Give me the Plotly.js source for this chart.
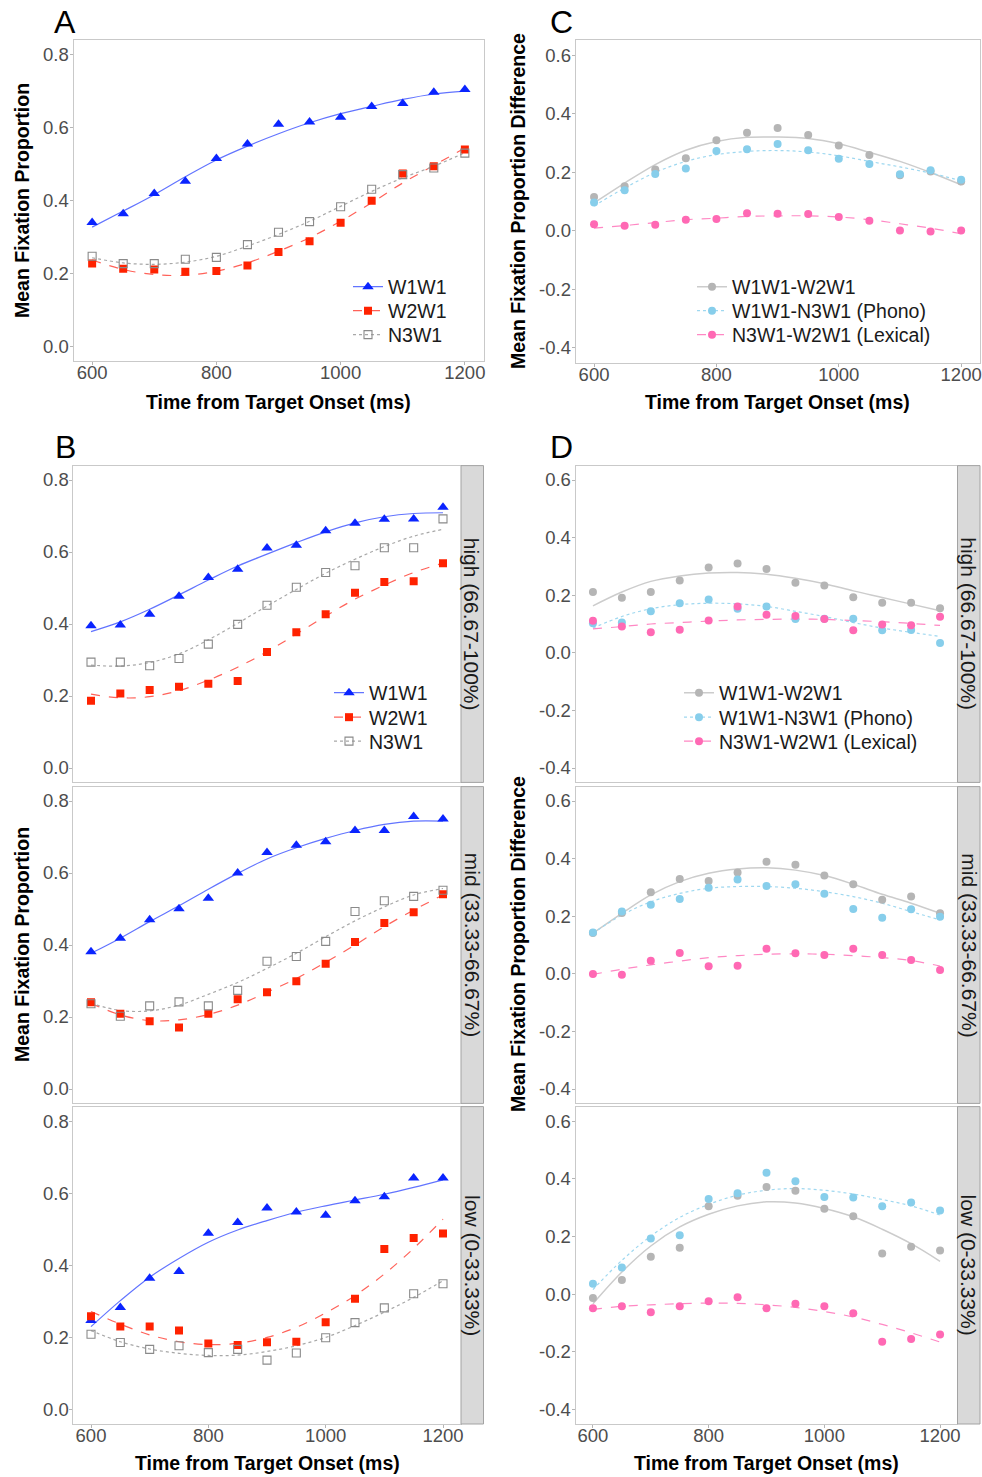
<!DOCTYPE html>
<html>
<head>
<meta charset="utf-8">
<script src="https://cdn.plot.ly/plotly-3.0.1.min.js"></script>
<style>html,body{margin:0;padding:0;background:#fff;}#chart{width:982px;height:1477px;}</style>
</head>
<body>
<div id="chart"></div>
<script>
// ---------------- DATA ----------------
const timeMs = [600,650,700,750,800,850,900,950,1000,1050,1100,1150,1200];
const timeTickVals = [600,800,1000,1200];
const timeTickText = ["600","800","1000","1200"];
const propTickVals = [0,0.2,0.4,0.6,0.8];
const propTickText = ["0.0","0.2","0.4","0.6","0.8"];
const diffTickVals = [-0.4,-0.2,0,0.2,0.4,0.6];
const diffTickText = ["-0.4","-0.2","0.0","0.2","0.4","0.6"];

const conditionNames = ["W1W1","W2W1","N3W1"];
const differenceNames = ["W1W1-W2W1","W1W1-N3W1 (Phono)","N3W1-W2W1 (Lexical)"];
const stripLabels = ["high (66.67-100%)","mid (33.33-66.67%)","low (0-33.33%)"];
const panelLetters = ["A","C","B","D"];
const propAxisTitle = "Mean Fixation Proportion";
const diffAxisTitle = "Mean Fixation Proportion Difference";
const timeAxisTitle = "Time from Target Onset (ms)";

// Panel A (all)
const A_W1W1 = [0.340,0.364,0.419,0.453,0.515,0.555,0.609,0.615,0.628,0.658,0.666,0.697,0.704];
const A_W2W1 = [0.227,0.213,0.211,0.205,0.207,0.222,0.259,0.288,0.339,0.399,0.474,0.494,0.540];
const A_N3W1 = [0.247,0.227,0.227,0.239,0.244,0.279,0.313,0.342,0.383,0.431,0.471,0.489,0.530];
const A_W1W1_fit = [0.327,0.371,0.416,0.465,0.511,0.549,0.583,0.613,0.638,0.658,0.677,0.692,0.700];
const A_W2W1_fit = [0.237,0.211,0.197,0.195,0.206,0.229,0.261,0.298,0.343,0.394,0.448,0.496,0.544];
const A_N3W1_fit = [0.243,0.229,0.225,0.231,0.247,0.275,0.307,0.343,0.384,0.425,0.462,0.494,0.531];

// Panel C (all, differences)
const C_W1W1_W2W1 = [0.115,0.152,0.209,0.248,0.309,0.335,0.351,0.327,0.291,0.259,0.190,0.202,0.168];
const C_W1W1_N3W1 = [0.097,0.138,0.194,0.213,0.272,0.278,0.296,0.275,0.246,0.228,0.193,0.207,0.174];
const C_N3W1_W2W1 = [0.022,0.017,0.021,0.038,0.040,0.060,0.058,0.057,0.047,0.034,0.001,-0.002,0.001];
const C_W1W1_W2W1_fit = [0.095,0.163,0.226,0.275,0.305,0.319,0.320,0.315,0.297,0.268,0.237,0.199,0.157];
const C_W1W1_N3W1_fit = [0.085,0.146,0.199,0.237,0.260,0.271,0.274,0.269,0.256,0.237,0.218,0.197,0.171];
const C_N3W1_W2W1_fit = [0.009,0.018,0.028,0.038,0.043,0.049,0.051,0.051,0.047,0.038,0.024,0.009,-0.010];

// Panel B high
const BH_W1W1 = [0.395,0.397,0.427,0.477,0.529,0.552,0.611,0.619,0.659,0.680,0.691,0.692,0.724];
const BH_W2W1 = [0.187,0.207,0.217,0.226,0.234,0.242,0.322,0.377,0.427,0.487,0.517,0.519,0.569];
const BH_N3W1 = [0.294,0.294,0.284,0.304,0.344,0.399,0.452,0.502,0.543,0.562,0.612,0.612,0.692];
const BH_W1W1_fit = [0.379,0.406,0.441,0.481,0.522,0.561,0.594,0.626,0.656,0.681,0.698,0.707,0.709];
const BH_W2W1_fit = [0.205,0.195,0.198,0.215,0.244,0.280,0.323,0.372,0.422,0.469,0.508,0.543,0.569];
const BH_N3W1_fit = [0.286,0.283,0.293,0.317,0.356,0.402,0.450,0.496,0.541,0.580,0.615,0.644,0.663];

// Panel B mid
const BM_W1W1 = [0.381,0.419,0.470,0.501,0.530,0.600,0.657,0.677,0.687,0.718,0.718,0.757,0.750];
const BM_W2W1 = [0.241,0.209,0.188,0.171,0.209,0.249,0.269,0.299,0.348,0.408,0.461,0.491,0.541];
const BM_N3W1 = [0.237,0.202,0.231,0.242,0.231,0.274,0.355,0.368,0.410,0.493,0.523,0.535,0.552];
const BM_W1W1_fit = [0.377,0.419,0.465,0.509,0.555,0.599,0.639,0.670,0.696,0.718,0.735,0.744,0.744];
const BM_W2W1_fit = [0.238,0.206,0.190,0.192,0.207,0.233,0.269,0.307,0.352,0.400,0.451,0.497,0.539];
const BM_N3W1_fit = [0.238,0.218,0.217,0.233,0.263,0.296,0.335,0.377,0.423,0.467,0.506,0.539,0.557];

// Panel B low
const BL_W1W1 = [0.247,0.283,0.364,0.383,0.489,0.519,0.559,0.548,0.539,0.579,0.590,0.642,0.642];
const BL_W2W1 = [0.259,0.230,0.230,0.219,0.183,0.179,0.187,0.188,0.242,0.307,0.445,0.476,0.488];
const BL_N3W1 = [0.209,0.186,0.167,0.177,0.158,0.167,0.137,0.157,0.199,0.241,0.282,0.321,0.349];
const BL_W1W1_fit = [0.230,0.302,0.367,0.419,0.464,0.498,0.524,0.547,0.565,0.581,0.597,0.616,0.637];
const BL_W2W1_fit = [0.272,0.237,0.207,0.188,0.180,0.184,0.200,0.228,0.268,0.316,0.376,0.447,0.528];
const BL_N3W1_fit = [0.219,0.188,0.168,0.156,0.150,0.151,0.161,0.177,0.200,0.233,0.270,0.311,0.357];

// Panel D high
const DH_W1W1_W2W1 = [0.211,0.191,0.211,0.251,0.296,0.310,0.291,0.243,0.234,0.193,0.174,0.174,0.155];
const DH_W1W1_N3W1 = [0.103,0.105,0.144,0.172,0.185,0.153,0.161,0.117,0.118,0.118,0.078,0.079,0.034];
const DH_N3W1_W2W1 = [0.111,0.091,0.071,0.080,0.112,0.161,0.132,0.128,0.117,0.078,0.098,0.096,0.125];
const DH_W1W1_W2W1_fit = [0.163,0.211,0.248,0.267,0.277,0.279,0.273,0.259,0.240,0.215,0.192,0.169,0.146];
const DH_W1W1_N3W1_fit = [0.086,0.126,0.153,0.167,0.172,0.170,0.161,0.144,0.126,0.105,0.086,0.071,0.057];
const DH_N3W1_W2W1_fit = [0.083,0.091,0.100,0.105,0.110,0.114,0.116,0.117,0.116,0.112,0.108,0.102,0.095];

// Panel D mid
const DM_W1W1_W2W1 = [0.142,0.211,0.283,0.329,0.322,0.352,0.389,0.379,0.341,0.311,0.257,0.268,0.210];
const DM_W1W1_N3W1 = [0.143,0.216,0.240,0.260,0.299,0.327,0.305,0.311,0.278,0.225,0.195,0.224,0.198];
const DM_N3W1_W2W1 = [-0.001,-0.003,0.045,0.072,0.026,0.028,0.087,0.071,0.065,0.087,0.065,0.048,0.013];
const DM_W1W1_W2W1_fit = [0.141,0.210,0.274,0.320,0.349,0.364,0.368,0.360,0.341,0.311,0.276,0.245,0.210];
const DM_W1W1_N3W1_fit = [0.141,0.204,0.250,0.279,0.297,0.303,0.303,0.297,0.285,0.268,0.245,0.216,0.187];
const DM_N3W1_W2W1_fit = [-0.002,0.016,0.031,0.044,0.056,0.063,0.068,0.069,0.068,0.063,0.056,0.046,0.027];

// Panel D low
const DL_W1W1_W2W1 = [-0.013,0.049,0.130,0.161,0.305,0.341,0.371,0.358,0.296,0.270,0.141,0.164,0.151];
const DL_W1W1_N3W1 = [0.036,0.092,0.193,0.204,0.330,0.350,0.421,0.391,0.337,0.335,0.305,0.318,0.290];
const DL_N3W1_W2W1 = [-0.049,-0.042,-0.063,-0.042,-0.025,-0.011,-0.049,-0.033,-0.042,-0.066,-0.165,-0.155,-0.140];
const DL_W1W1_W2W1_fit = [-0.033,0.077,0.167,0.233,0.277,0.306,0.320,0.316,0.297,0.268,0.225,0.175,0.114];
const DL_W1W1_N3W1_fit = [0.016,0.117,0.201,0.266,0.311,0.343,0.360,0.366,0.360,0.347,0.328,0.306,0.274];
const DL_N3W1_W2W1_fit = [-0.053,-0.042,-0.037,-0.033,-0.031,-0.032,-0.037,-0.046,-0.060,-0.079,-0.105,-0.134,-0.166];

// ---------------- STYLES ----------------
const FONT = "Liberation Sans, Arial, Helvetica, sans-serif";
const W = 982, H = 1477;
const condStyles = [
  {marker:{symbol:'triangle-up', size:10, color:'#0a24ff'}, line:{color:'rgba(45,70,255,0.75)', width:1.2, dash:'solid'}},
  {marker:{symbol:'square', size:8, color:'#ff2200'}, line:{color:'rgba(255,70,60,0.85)', width:1.2, dash:'dash'}},
  {marker:{symbol:'square-open', size:8, color:'#8a8a8a', line:{width:1.1}}, line:{color:'#a8a8a8', width:1.2, dash:'dot'}}
];
const diffStyles = [
  {marker:{symbol:'circle', size:8, color:'#b5b5b5'}, line:{color:'#cccccc', width:1.5, dash:'solid'}},
  {marker:{symbol:'circle', size:8, color:'#87ceeb'}, line:{color:'#9fd8f0', width:1.2, dash:'dot'}},
  {marker:{symbol:'circle', size:8, color:'#ff69b4'}, line:{color:'#ff88c4', width:1.2, dash:'dash'}}
];

function xd(l, r){ return [l/W, r/W]; }
function yd(t, b){ return [1 - b/H, 1 - t/H]; }
function px(x){ return x/W; }
function py(y){ return 1 - y/H; }

const traces = [];
function addPanel(xa, ya, pointsArr, fitsArr, names, styles){
  for(let i=0;i<pointsArr.length;i++){
    traces.push({x: timeMs, y: fitsArr[i], xaxis: xa, yaxis: ya, mode:'lines', type:'scatter',
      line: Object.assign({shape:'spline', smoothing:1}, styles[i].line), showlegend:false, hoverinfo:'skip', name: names[i]+' fit'});
  }
  for(let i=0;i<pointsArr.length;i++){
    traces.push({x: timeMs, y: pointsArr[i], xaxis: xa, yaxis: ya, mode:'markers', type:'scatter',
      marker: styles[i].marker, showlegend:false, name: names[i]});
  }
}
addPanel('x','y',[A_W1W1,A_W2W1,A_N3W1],[A_W1W1_fit,A_W2W1_fit,A_N3W1_fit],conditionNames,condStyles);
addPanel('x2','y2',[C_W1W1_W2W1,C_W1W1_N3W1,C_N3W1_W2W1],[C_W1W1_W2W1_fit,C_W1W1_N3W1_fit,C_N3W1_W2W1_fit],differenceNames,diffStyles);
addPanel('x3','y3',[BH_W1W1,BH_W2W1,BH_N3W1],[BH_W1W1_fit,BH_W2W1_fit,BH_N3W1_fit],conditionNames,condStyles);
addPanel('x4','y4',[BM_W1W1,BM_W2W1,BM_N3W1],[BM_W1W1_fit,BM_W2W1_fit,BM_N3W1_fit],conditionNames,condStyles);
addPanel('x5','y5',[BL_W1W1,BL_W2W1,BL_N3W1],[BL_W1W1_fit,BL_W2W1_fit,BL_N3W1_fit],conditionNames,condStyles);
addPanel('x6','y6',[DH_W1W1_W2W1,DH_W1W1_N3W1,DH_N3W1_W2W1],[DH_W1W1_W2W1_fit,DH_W1W1_N3W1_fit,DH_N3W1_W2W1_fit],differenceNames,diffStyles);
addPanel('x7','y7',[DM_W1W1_W2W1,DM_W1W1_N3W1,DM_N3W1_W2W1],[DM_W1W1_W2W1_fit,DM_W1W1_N3W1_fit,DM_N3W1_W2W1_fit],differenceNames,diffStyles);
addPanel('x8','y8',[DL_W1W1_W2W1,DL_W1W1_N3W1,DL_N3W1_W2W1],[DL_W1W1_W2W1_fit,DL_W1W1_N3W1_fit,DL_N3W1_W2W1_fit],differenceNames,diffStyles);

// ---------------- LEGENDS (one legend per row) ----------------
const layout = {
  width: W, height: H, margin:{l:0,r:0,t:0,b:0},
  paper_bgcolor:'#ffffff', plot_bgcolor:'#ffffff',
  font:{family: FONT, color:'#1a1a1a'},
  showlegend: true, shapes: [], annotations: []
};
let legendCount = 0;
function addLegend(names, styles, markerX, rowYs, xa, ya){
  for(let i=0;i<names.length;i++){
    legendCount++;
    const id = legendCount === 1 ? 'legend' : 'legend' + legendCount;
    layout[id] = {x: px(markerX - 20), y: py(rowYs[i]), xanchor:'left', yanchor:'middle',
      bgcolor:'rgba(0,0,0,0)', borderwidth:0, itemwidth:30,
      font:{family: FONT, size:19.5, color:'#1a1a1a'}};
    traces.push({x:[null], y:[null], xaxis: xa, yaxis: ya, type:'scatter', mode:'lines+markers',
      name: names[i], legend: id, showlegend:true, hoverinfo:'skip',
      marker: styles[i].marker, line: styles[i].line});
  }
}
addLegend(conditionNames, condStyles, 368, [287, 311, 335], 'x', 'y');
addLegend(differenceNames, diffStyles, 712, [287, 311, 335], 'x2', 'y2');
addLegend(conditionNames, condStyles, 349, [693, 717.5, 741.5], 'x3', 'y3');
addLegend(differenceNames, diffStyles, 699, [693, 717.5, 741.5], 'x6', 'y6');

// ---------------- AXES ----------------
function baseX(domain, anchor, showLabels){
  return {domain: domain, anchor: anchor, range:[570,1230], tickmode:'array',
    tickvals: timeTickVals, ticktext: timeTickText, showgrid:false, zeroline:false,
    showline:true, mirror:true, linecolor:'#c9c9c9', linewidth:1,
    ticks: showLabels ? 'outside' : '', ticklen:3, tickcolor:'#b5b5b5', tickwidth:1,
    ticklabelstandoff: -8,
    showticklabels: showLabels, tickfont:{family: FONT, size:18.5, color:'#4d4d4d'}, fixedrange:true};
}
function baseY(domain, anchor, isDiff){
  return {domain: domain, anchor: anchor, range: isDiff ? [-0.45,0.65] : [-0.04,0.84], tickmode:'array',
    tickvals: isDiff ? diffTickVals : propTickVals, ticktext: isDiff ? diffTickText : propTickText,
    showgrid:false, zeroline:false, showline:true, mirror:true, linecolor:'#c9c9c9', linewidth:1,
    ticks:'outside', ticklen:3, tickcolor:'#b5b5b5', tickwidth:1, ticklabelstandoff: -3,
    tickfont:{family: FONT, size:18.5, color:'#4d4d4d'}, fixedrange:true};
}
// A and C
layout.xaxis  = baseX(xd(73.5,483.5), 'y', true);
layout.yaxis  = baseY(yd(40,361), 'x', false);
layout.xaxis2 = baseX(xd(575.7,979.5), 'y2', true);
layout.yaxis2 = baseY(yd(40.4,362.6), 'x2', true);
// B and D facets
const facetRows = [[465.6,782.4],[786.6,1103.4],[1106.6,1424]];
const bX = [73.4,460.6], dX = [575.6,957.4];
const bStrip = [461,483.5], dStrip = [957.5,980];
for(let r=0;r<3;r++){
  const bi = 3 + r, di = 6 + r;
  layout['xaxis'+bi] = baseX(xd(bX[0],bX[1]), 'y'+bi, r===2);
  layout['yaxis'+bi] = baseY(yd(facetRows[r][0],facetRows[r][1]), 'x'+bi, false);
  layout['xaxis'+di] = baseX(xd(dX[0],dX[1]), 'y'+di, r===2);
  layout['yaxis'+di] = baseY(yd(facetRows[r][0],facetRows[r][1]), 'x'+di, true);
  [bStrip, dStrip].forEach(function(s){
    layout.shapes.push({type:'rect', xref:'paper', yref:'paper', x0:px(s[0]), x1:px(s[1]),
      y0:py(facetRows[r][1]), y1:py(facetRows[r][0]), fillcolor:'#d9d9d9', line:{color:'#a3a3a3', width:1}, layer:'above'});
    layout.annotations.push({xref:'paper', yref:'paper', x:px((s[0]+s[1])/2), y:py((facetRows[r][0]+facetRows[r][1])/2),
      text: stripLabels[r], textangle:90, showarrow:false, xanchor:'center', yanchor:'middle',
      font:{family: FONT, size:21, color:'#1a1a1a'}});
  });
}

// ---------------- TEXT ----------------
function ann(text, x, y, size, opts){
  layout.annotations.push(Object.assign({xref:'paper', yref:'paper', x:px(x), y:py(y), text:text, showarrow:false,
    xanchor:'center', yanchor:'middle', font:{family: FONT, size:size, color:'#000000'}}, opts||{}));
}
const letterPos = [[65,22],[561,22],[65,447],[561,447]];
panelLetters.forEach(function(l,i){ ann(l, letterPos[i][0], letterPos[i][1], 32); });
const boldFont = {family: FONT, size:19.5, color:'#000000', weight:'bold'};
ann(propAxisTitle, 22, 201, 19.5, {textangle:-90, font: boldFont});
ann(diffAxisTitle, 518, 201, 19.5, {textangle:-90, font: boldFont});
ann(propAxisTitle, 22, 945, 19.5, {textangle:-90, font: boldFont});
ann(diffAxisTitle, 518, 944, 19.5, {textangle:-90, font: boldFont});
ann(timeAxisTitle, 278.5, 402, 19.5, {font: boldFont});
ann(timeAxisTitle, 777.5, 402, 19.5, {font: boldFont});
ann(timeAxisTitle, 267, 1463, 19.5, {font: boldFont});
ann(timeAxisTitle, 766.5, 1463, 19.5, {font: boldFont});

Plotly.newPlot('chart', traces, layout, {staticPlot:true, displayModeBar:false});
</script>
</body>
</html>
